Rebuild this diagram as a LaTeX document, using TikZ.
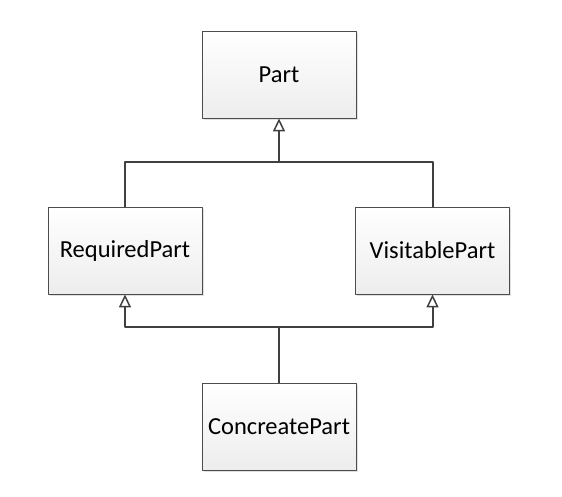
\documentclass[tikz,border=0pt]{standalone}
\usepackage{fontspec}
\setmainfont{Carlito}
\usetikzlibrary{arrows.meta,shadows}
\begin{document}
\begin{tikzpicture}[x=1pt,y=-1pt,line join=round,font=\fontsize{24.5}{28}\selectfont,
	classbox/.style={draw=black!70,line width=0.8pt,top color=white,bottom color=black!7,
		minimum width=154pt,minimum height=87pt,inner sep=0pt,
		drop shadow={shadow xshift=1.5pt,shadow yshift=-1.5pt,fill=black!12,opacity=1}},
	link/.style={draw=black!75,line width=2pt},
	inherit/.style={link,-{Triangle[open,length=13pt,width=12pt,line width=1.5pt]}}]
	\useasboundingbox (0,0) rectangle (562,496);
	\node[classbox] (part) at (279,74.5) {Part};
	\node[classbox] (req) at (125,250.5) {RequiredPart};
	\node[classbox] (vis) at (432.5,250.5) {VisitablePart};
	\node[classbox] (conc) at (279,426.5) {ConcreatePart};
	\coordinate (upjoin) at (279,162);
	\coordinate (lowjoin) at (279,327);
	% generalisation: upper level
	\draw[inherit] (req.north) |- (upjoin) -- (part.south);
	\draw[link] (vis.north) |- (upjoin);
	% generalisation: lower level
	\draw[inherit] (conc.north) -- (lowjoin) -| (req.south);
	\draw[inherit] (lowjoin) -| (vis.south);
\end{tikzpicture}
\end{document}
